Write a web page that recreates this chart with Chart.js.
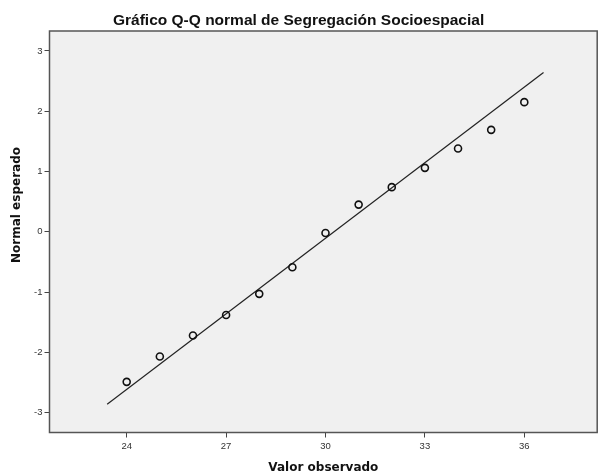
<!DOCTYPE html>
<html>
<head>
<meta charset="utf-8">
<script src="https://cdn.jsdelivr.net/npm/chart.js@4"></script>
<style>
  html, body { margin: 0; padding: 0; background: #ffffff; }
  canvas { display: block; }
</style>
</head>
<body>
<canvas id="qq" width="598" height="475"></canvas>
<script>
var observed = [24, 25, 26, 27, 28, 29, 30, 31, 32, 33, 34, 35, 36];
var expected = [-2.49, -2.07, -1.72, -1.38, -1.03, -0.59, -0.02, 0.45, 0.74, 1.06, 1.38, 1.69, 2.15];

// recta de referencia (extremos)
var lineX = [23.41, 36.58];
var lineY = [-2.86, 2.64];

var xTicks = [24, 27, 30, 33, 36];
var yTicks = [-3, -2, -1, 0, 1, 2, 3];

var yTitle = 'Normal esperado';

var points = observed.map(function (v, i) { return { x: v, y: expected[i] }; });
var refLine = lineX.map(function (v, i) { return { x: v, y: lineY[i] }; });

var plotBox = {
  id: 'plotBox',
  beforeDraw: function (chart) {
    var a = chart.chartArea, ctx = chart.ctx;
    ctx.save();
    ctx.fillStyle = '#f0f0f0';
    ctx.fillRect(a.left, a.top, a.right - a.left, a.bottom - a.top);
    ctx.restore();
  },
  afterDraw: function (chart) {
    var a = chart.chartArea, ctx = chart.ctx;
    ctx.save();
    ctx.strokeStyle = '#555555';
    ctx.lineWidth = 1.5;
    ctx.strokeRect(a.left, a.top, a.right - a.left, a.bottom - a.top);
    // y axis title, SPSS puts it a bit above the middle
    ctx.translate(17, 205);
    ctx.rotate(-Math.PI / 2);
    ctx.fillStyle = '#111111';
    ctx.font = 'bold 12px "DejaVu Sans", Verdana, sans-serif';
    ctx.textAlign = 'center';
    ctx.textBaseline = 'middle';
    ctx.fillText(yTitle, 0, 0);
    ctx.restore();
  }
};

Chart.defaults.font.family = '"Liberation Sans", Arial, sans-serif';

new Chart(document.getElementById('qq'), {
  type: 'scatter',
  data: {
    datasets: [
      {
        label: 'Recta',
        data: refLine,
        showLine: true,
        borderColor: '#222222',
        borderWidth: 1.2,
        pointRadius: 0,
        order: 2
      },
      {
        label: 'Observado',
        data: points,
        pointStyle: 'circle',
        pointRadius: 3.5,
        pointBorderWidth: 1.6,
        pointBorderColor: '#111111',
        pointBackgroundColor: 'rgba(0,0,0,0)',
        order: 1
      }
    ]
  },
  options: {
    responsive: false,
    animation: false,
    layout: { autoPadding: false, padding: { top: 0, right: 0.8, bottom: 0, left: 0 } },
    plugins: {
      legend: { display: false },
      tooltip: { enabled: false },
      title: {
        display: true,
        text: 'Gráfico Q-Q normal de Segregación Socioespacial',
        color: '#111111',
        font: { size: 15.5, weight: 'bold' },
        padding: { top: 11.3, bottom: 1.1 }
      }
    },
    scales: {
      x: {
        type: 'linear',
        min: 21.67,
        max: 38.2,
        afterBuildTicks: function (s) { s.ticks = xTicks.map(function (v) { return { value: v }; }); },
        afterFit: function (s) { s.height = 42.5; s.paddingLeft = 0; s.paddingRight = 0; },
        grid: { drawOnChartArea: false, drawTicks: true, tickLength: 5, color: '#444444' },
        border: { display: false },
        ticks: { color: '#333333', font: { size: 9.5 }, padding: 3, maxRotation: 0 },
        title: {
          display: true,
          text: 'Valor observado',
          color: '#111111',
          font: { family: '"DejaVu Sans", Verdana, sans-serif', size: 12, weight: 'bold' },
          padding: { top: 4, bottom: 0 }
        }
      },
      y: {
        type: 'linear',
        min: -3.33,
        max: 3.33,
        afterBuildTicks: function (s) { s.ticks = yTicks.map(function (v) { return { value: v }; }); },
        afterFit: function (s) { s.width = 49.5; s.paddingTop = 0; s.paddingBottom = 0; },
        grid: { drawOnChartArea: false, drawTicks: true, tickLength: 5, color: '#444444' },
        border: { display: false },
        ticks: { color: '#333333', font: { size: 9.5 }, padding: 2 }
      }
    }
  },
  plugins: [plotBox]
});
</script>
</body>
</html>
